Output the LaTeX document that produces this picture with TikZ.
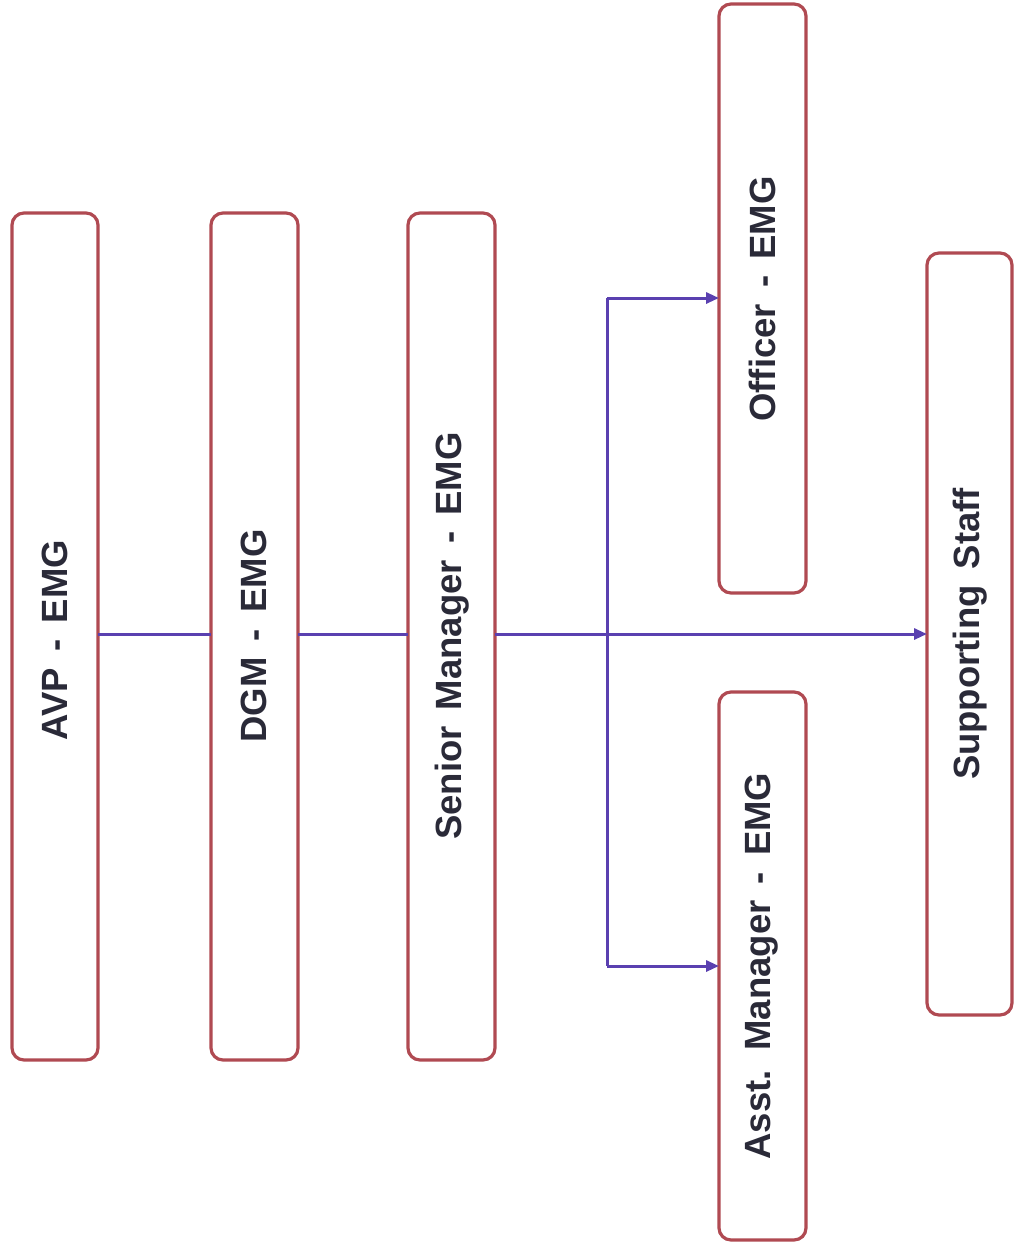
\documentclass[tikz,border=0pt]{standalone}
\usepackage{fontspec}
\setmainfont{Liberation Sans}
\usetikzlibrary{arrows.meta}
\definecolor{boxred}{HTML}{B04A52}
\definecolor{linep}{HTML}{5A40B0}
\definecolor{txt}{HTML}{2A2A38}
\begin{document}
\begin{tikzpicture}[x=1pt,y=-1pt,
  box/.style={draw=boxred,line width=3.2pt,rounded corners=12pt,fill=white,inner sep=0pt},
  conn/.style={draw=linep,line width=3pt},
  arr/.style={conn,-{Triangle[length=13pt,width=11pt]}},
  lbl/.style={font=\fontsize{36.5}{40}\selectfont\bfseries,text=txt,rotate=90}]
\fill[white] (0,0) rectangle (1014,1247);
\useasboundingbox (0,0) rectangle (1014,1247);
% boxes
\draw[box] (12,213) rectangle (98,1060);
\draw[box] (211,213) rectangle (298,1060);
\draw[box] (408,213) rectangle (495,1060);
\draw[box] (719,4) rectangle (806,593);
\draw[box] (719,692) rectangle (806,1240);
\draw[box] (927,253) rectangle (1012,1015);
% named anchors
\coordinate (avpR) at (98,634);
\coordinate (dgmL) at (211,634);
\coordinate (dgmR) at (298,634);
\coordinate (smL) at (408,634);
\coordinate (smR) at (495,634);
\coordinate (supL) at (927,634);
\coordinate (jt) at (607,298);
\coordinate (jb) at (607,966);
\coordinate (offL) at (719,298);
\coordinate (asmL) at (719,966);
% labels
\node[lbl] (avp) at (55,640) {AVP\,\ -\,\ EMG};
\node[lbl] (dgm) at (254,636) {DGM\,\ -\,\ EMG};
\node[lbl] (sm) at (452,636) {Senior\, Manager\,\ -\,\ EMG};
\node[lbl] (off) at (762,299) {Officer\,\ -\,\ EMG};
\node[lbl] (asm) at (762,966) {Asst.\, Manager\,\ -\,\ EMG};
\node[lbl] (sup) at (970,634) {Supporting\,\ Staff};
% connectors
\draw[conn] (avpR) -- (dgmL);
\draw[conn] (dgmR) -- (smL);
\draw[arr] (smR) -- (supL);
\draw[conn] (jt) -- (jb);
\draw[arr] (jt) -- (offL);
\draw[arr] (jb) -- (asmL);
\end{tikzpicture}
\end{document}
